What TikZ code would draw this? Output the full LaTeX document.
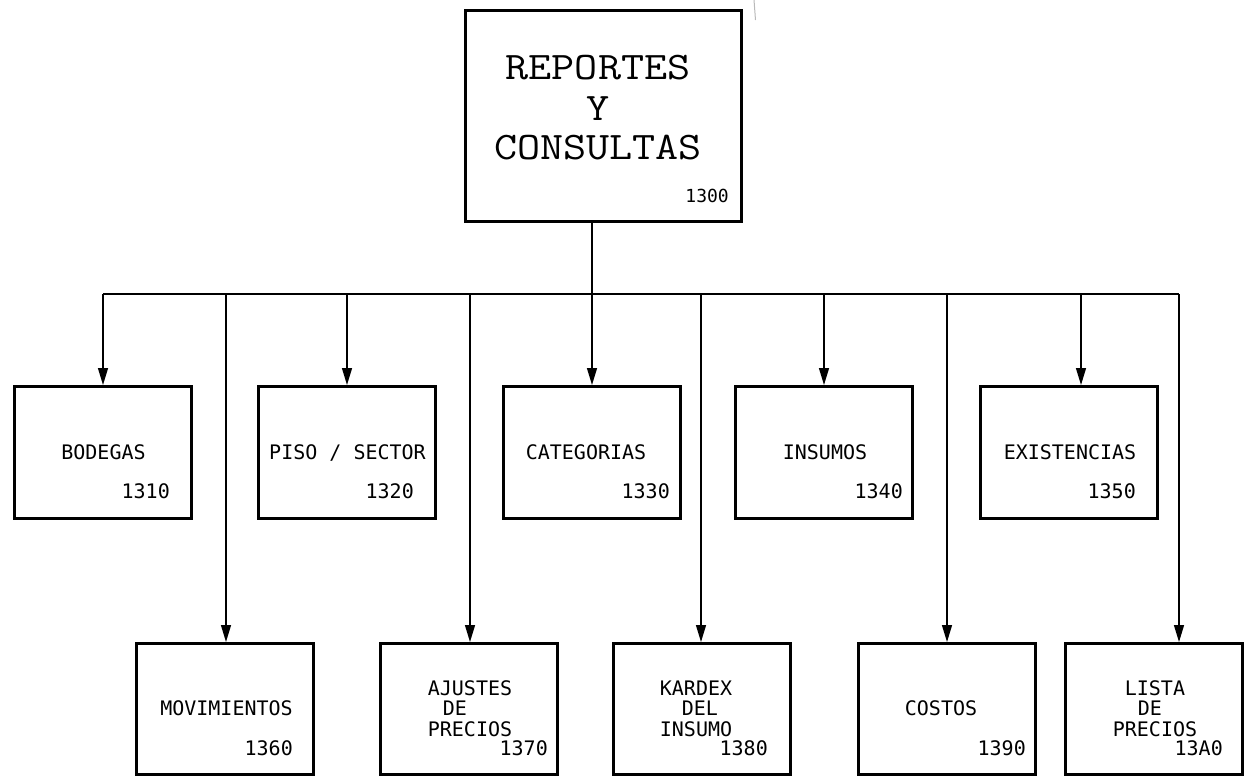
\documentclass[tikz,border=0pt]{standalone}
\usepackage{fontspec}
\usepackage{graphicx}
\newfontfamily\boxfont{DejaVu Sans Mono}
\usetikzlibrary{arrows.meta}
\begin{document}
\begin{tikzpicture}[x=1pt,y=-1pt,
  box/.style={draw,line width=3pt,minimum width=177pt,inner sep=0pt},
  toprow/.style={box,minimum height=132pt},
  botrow/.style={box,minimum height=131pt},
  lbl/.style={inner sep=0pt,font=\boxfont\fontsize{20}{20}\selectfont,anchor=base},
  num/.style={inner sep=0pt,font=\boxfont\fontsize{20}{20}\selectfont,anchor=base east},
  conn/.style={line width=1.3pt},
  arr/.style={conn,-{Triangle[length=17pt,width=10pt]}}]
\useasboundingbox (0,0) rectangle (1255,776);

% top box
\node[box,minimum width=276pt,minimum height=211pt] (top) at (603.5,116) {};
\node[anchor=base,inner sep=0pt,font=\ttfamily\fontsize{39}{40}\selectfont] (ttl) at (598,80)
  {\scalebox{1.15}[1]{\begin{tabular}[t]{@{}c@{}}REPORTES\\Y\\CONSULTAS\end{tabular}}};
\node[num,font=\boxfont\fontsize{18}{18}\selectfont] (n1300) at (729,202) {1300};

% first row
\node[toprow] (bod) at (103,452.5) {};
\node[toprow] (pis) at (347,452.5) {};
\node[toprow] (cat) at (592,452.5) {};
\node[toprow] (ins) at (824,452.5) {};
\node[toprow] (exi) at (1068.5,452.5) {};

\node[lbl] (bod-t) at (103.5,459) {BODEGAS};
\node[lbl] (pis-t) at (347.5,459) {PISO / SECTOR};
\node[lbl] (cat-t) at (586,459) {CATEGORIAS};
\node[lbl] (ins-t) at (825,459) {INSUMOS};
\node[lbl] (exi-t) at (1070,459) {EXISTENCIAS};

\node[num] (n1310) at (170,498) {1310};
\node[num] (n1320) at (414,498) {1320};
\node[num] (n1330) at (670,498) {1330};
\node[num] (n1340) at (903,498) {1340};
\node[num] (n1350) at (1136,498) {1350};

% second row
\node[botrow] (mov) at (225,709) {};
\node[botrow] (aju) at (469,709) {};
\node[botrow] (kar) at (702,709) {};
\node[botrow] (cos) at (947,709) {};
\node[botrow] (lis) at (1154,709) {};

\node[lbl] (mov-t) at (226.5,715) {MOVIMIENTOS};
\node[lbl] (aju-t) at (470,695)
  {\begin{tabular}[t]{@{}l@{}}AJUSTES\\\hspace*{15pt}DE\\PRECIOS\end{tabular}};
\node[lbl] (kar-t) at (696,695)
  {\begin{tabular}[t]{@{}l@{}}KARDEX\\\hspace*{22pt}DEL\\INSUMO\end{tabular}};
\node[lbl] (cos-t) at (941,715) {COSTOS};
\node[lbl] (lis-t) at (1155,695)
  {\begin{tabular}[t]{@{}l@{}}\hspace*{12pt}LISTA\\\hspace*{25pt}DE\\PRECIOS\end{tabular}};

\node[num] (n1360) at (293,755) {1360};
\node[num] (n1370) at (548,755) {1370};
\node[num] (n1380) at (768,755) {1380};
\node[num] (n1390) at (1026,755) {1390};
\node[num] (n13A0) at (1223,755) {13A0};

% connectors
\coordinate (bus) at (0,294);
\draw[conn] (top.south -| cat.north) -- (cat.north |- bus);
\draw[conn] (bod.north |- bus) -- ([xshift=25pt]lis.north |- bus);

\draw[arr] (bod.north |- bus) -- (bod.north);
\draw[arr] (pis.north |- bus) -- (pis.north);
\draw[arr] (cat.north |- bus) -- (cat.north);
\draw[arr] (ins.north |- bus) -- (ins.north);
\draw[arr] ([xshift=12.5pt]exi.north |- bus) -- ([xshift=12.5pt]exi.north);

\draw[arr] ([xshift=1pt]mov.north |- bus) -- ([xshift=1pt]mov.north);
\draw[arr] ([xshift=1pt]aju.north |- bus) -- ([xshift=1pt]aju.north);
\draw[arr] ([xshift=-1pt]kar.north |- bus) -- ([xshift=-1pt]kar.north);
\draw[arr] (cos.north |- bus) -- (cos.north);
\draw[arr] ([xshift=25pt]lis.north |- bus) -- ([xshift=25pt]lis.north);

% faint mark at top
\draw[gray!55,line width=1pt] (754,0) -- (755.5,20);
\end{tikzpicture}
\end{document}
